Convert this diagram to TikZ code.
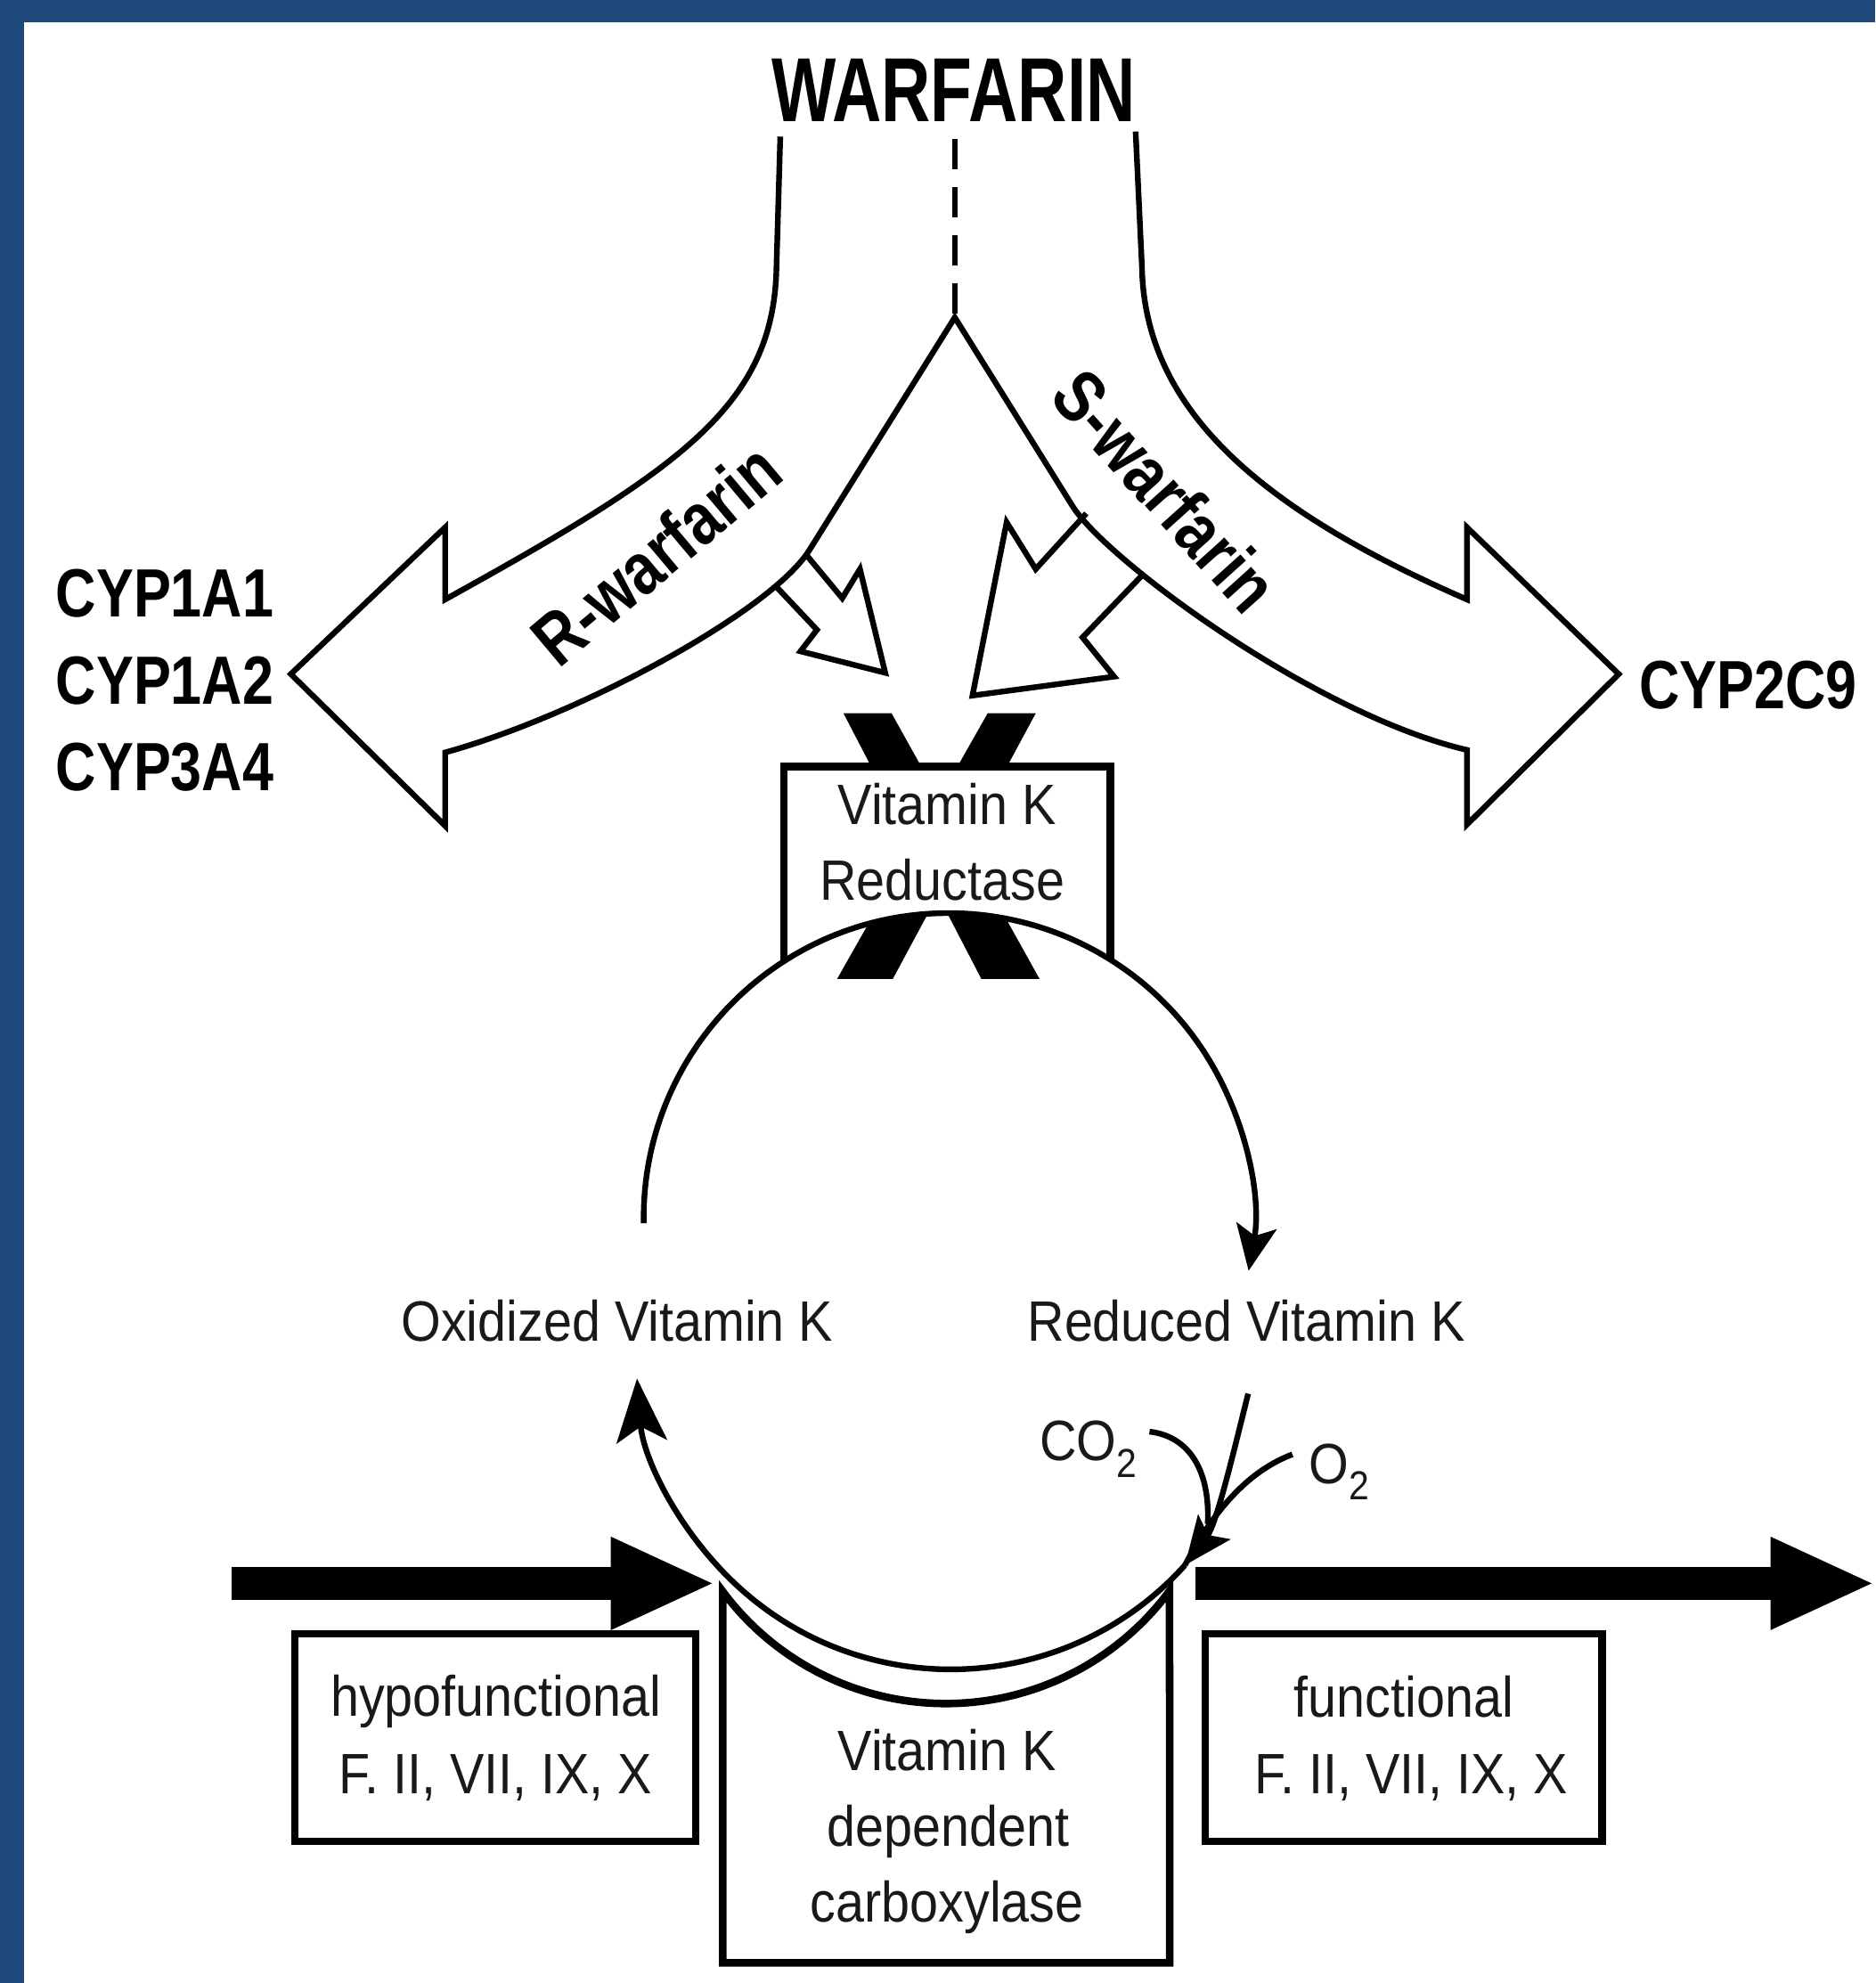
\documentclass[tikz,border=0pt]{standalone}
\usepackage{fontspec}
\setmainfont{Liberation Sans}
\newfontfamily\regfam[FakeStretch=0.9]{Liberation Sans}
\newfontfamily\bfam[FakeStretch=0.82]{Liberation Sans}
\newfontfamily\wfam[FakeStretch=0.75]{Liberation Sans}
\usetikzlibrary{arrows.meta}
\definecolor{framecol}{RGB}{31,73,122}
\begin{document}
\begin{tikzpicture}[x=1pt,y=1pt,
  lw/.style={line width=4.5pt, line join=miter},
  boxline/.style={line width=6pt, line join=miter},
  reg/.style={font=\regfam\fontsize{45}{50}\selectfont, text=black!90, inner sep=0pt, anchor=base},
  bld/.style={font=\bfam\bfseries\fontsize{54}{60}\selectfont, inner sep=0pt, anchor=base west},
  slab/.style={font=\bfam\bfseries\fontsize{58}{64}\selectfont, inner sep=0pt},
  fat/.style={line width=26pt, -{Triangle[length=83pt,width=67pt]}}
]
\useasboundingbox (0,0) rectangle (1483,-1568);
\fill[framecol] (0,0) rectangle (1483,-1568);
\fill[white] (19,-17.6) rectangle (1483,-1568);

% ---------- labels ----------
\node[font=\wfam\bfseries\fontsize{72}{80}\selectfont, inner sep=0pt, anchor=base] (warfarin) at (754,-96.4) {WARFARIN};
\node[bld] (cyp1a1) at (44,-488) {CYP1A1};
\node[bld] (cyp1a2) at (44,-557) {CYP1A2};
\node[bld] (cyp3a4) at (44,-625) {CYP3A4};
\node[bld] (cyp2c9) at (1296,-560) {CYP2C9};

% ---------- fork ----------
\coordinate (apex) at (755,-251);
\coordinate (dtop) at (755,-110);
\draw[lw] (617,-108) -- (614,-211)
  .. controls (612,-320) and (540,-370) .. (352,-474)
  -- (352,-417) -- (230,-533) -- (352,-653) -- (352,-595)
  .. controls (460,-565) and (610,-483) .. (640,-435)
  -- (apex) -- (848,-400)
  .. controls (874.5,-442.5) and (1040,-565) .. (1160,-593)
  -- (1160,-652) -- (1280,-533) -- (1160,-417) -- (1160,-474)
  .. controls (990,-400) and (905,-320) .. (903,-211) -- (898,-104);
\draw[line width=4.5pt, dash pattern=on 24pt off 14pt] (dtop) -- (apex);

% small reduction arrows
\draw[lw] (637,-438) -- (666,-473) -- (680,-450) -- (700,-532) -- (633,-515) -- (646,-498) -- (613,-463);
\draw[lw] (859,-406) -- (819,-450) -- (796,-413) -- (769,-550) -- (881,-535) -- (856,-504) -- (905,-453);

\node[slab, rotate=40] (rwarf) at (519,-438) {R-warfarin};
\node[slab, rotate=-48] (swarf) at (922,-388) {S-warfarin};

% ---------- reductase with X ----------
\fill (667,-564) -- (705,-564) -- (822,-774) -- (776,-774) -- cycle;
\fill (781,-564) -- (819,-564) -- (706,-774) -- (662,-774) -- cycle;
\fill[white] (620,-606) -- (878,-606) -- (878,-758.8) arc[start angle=57.9, end angle=122.6, radius=241] -- cycle;
\draw[boxline] (620,-760) -- (620,-606) -- (878,-606) -- (878,-759);
\node[reg] (vkr1) at (749,-652) {Vitamin K};
\node[reg] (vkr2) at (745,-711.6) {Reductase};

% ---------- cycle ----------
\coordinate (oxstart) at (509.04,-967.2);
\coordinate (A) at (937,-1237.6);
\draw[lw, -{Stealth[length=36pt,width=32pt,inset=8pt]}] (oxstart) arc[start angle=181, end angle=-10, radius=241];
\draw[lw, -{Stealth[length=50pt,width=40pt,inset=12pt]}] (A) arc[start angle=-42, end angle=-175.6, radius=249];

\node[reg] (oxk) at (488,-1060.5) {Oxidized Vitamin K};
\node[reg] (redk) at (985.5,-1060.5) {Reduced Vitamin K};

\coordinate (redtail) at (987,-1102);
\coordinate (o2tail) at (1022,-1150);
\coordinate (co2tail) at (909,-1132);
\draw[lw] (co2tail) .. controls (942,-1136) and (957,-1165) .. (955,-1205);
\draw[lw] (o2tail) .. controls (990,-1162) and (962,-1190) .. (A);
\draw[lw, -{Stealth[length=38pt,width=32pt,inset=8pt]}] (redtail) .. controls (975,-1150) and (962,-1205) .. (A);
\node[reg, anchor=base west] (co2) at (822,-1155) {CO\raisebox{-13pt}{\fontsize{32}{34}\selectfont 2}};
\node[reg, anchor=base west] (o2) at (1035,-1173) {O\raisebox{-13pt}{\fontsize{32}{34}\selectfont 2}};

% ---------- carboxylase ----------
\draw[boxline] (571.6,-1258.5) arc[start angle=-143.3, end angle=-36.5, radius=220] -- (925,-1552) -- (571.6,-1552) -- cycle;
\node[reg] (vkc1) at (749,-1400) {Vitamin K};
\node[reg] (vkc2) at (750,-1460) {dependent};
\node[reg] (vkc3) at (749,-1520) {carboxylase};

% ---------- factor boxes and flow ----------
\draw[boxline] (233,-1292) rectangle (550,-1456);
\draw[boxline] (953,-1292) rectangle (1267,-1456);
\node[reg] (hyp1) at (392,-1357) {hypofunctional};
\node[reg] (hyp2) at (392,-1418) {F. II, VII, IX, X};
\node[reg] (fun1) at (1110,-1358) {functional};
\node[reg] (fun2) at (1116,-1418) {F. II, VII, IX, X};

\coordinate (inL) at (183,-1252);
\coordinate (inR) at (566,-1252);
\coordinate (outL) at (945,-1252);
\coordinate (outR) at (1483,-1252);
\draw[fat] (inL) -- (inR);
\draw[fat] (outL) -- (outR);
\end{tikzpicture}
\end{document}
